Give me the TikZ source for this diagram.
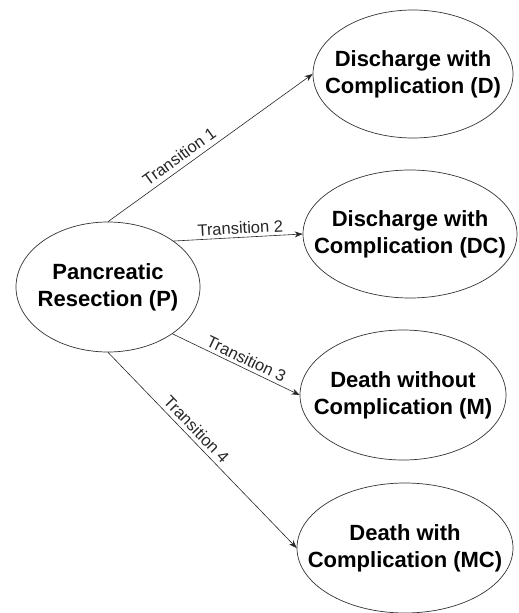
\documentclass[tikz,border=0pt]{standalone}
\usepackage{fontspec}
\setmainfont{Liberation Sans}
\usetikzlibrary{arrows.meta,shapes.geometric}

\begin{document}
\begin{tikzpicture}[x=1pt, y=-1pt,
		state/.style={ellipse, draw=black!80, line width=0.7pt, inner sep=0pt},
		statetext/.style={align=center, inner sep=0pt, font=\fontsize{22}{27}\selectfont\bfseries},
		arr/.style={-{Stealth[length=8pt, width=6pt]}, line width=0.6pt, black!85},
		lab/.style={sloped, above, inner sep=3pt, font=\fontsize{16.5}{18}\selectfont}]
			\useasboundingbox (0,0) rectangle (519,613);

			% States
			\node[state, minimum width=184, minimum height=130,
				label={[statetext]center:Pancreatic\\Resection (P)}] (P) at (108,287) {};
			\node[state, minimum width=200, minimum height=128,
				label={[statetext]center:Discharge with\\Complication (D)}] (D) at (413,74) {};
			\node[state, minimum width=214, minimum height=128,
				label={[statetext]center:Discharge with\\Complication (DC)}] (DC) at (410,234) {};
			\node[state, minimum width=206, minimum height=130,
				label={[statetext]center:Death without\\Complication (M)}] (M) at (403,395) {};
			\node[state, minimum width=216, minimum height=130,
				label={[statetext]center:Death with\\Complication (MC)}] (MC) at (405,548) {};

			% Transitions
			\draw[arr] (P.north) -- (D.west) node[lab, pos=0.38, inner sep=5pt] {Transition 1};
			\draw[arr] (P.35) -- (DC.west) node[lab, pos=0.52] {Transition 2};
			\draw[arr] (P.-36) -- (M.west) node[lab, pos=0.55] {Transition 3};
			\draw[arr] (P.south) -- (MC.west) node[lab, pos=0.43, inner sep=4pt] {Transition 4};
		\end{tikzpicture}
\end{document}
